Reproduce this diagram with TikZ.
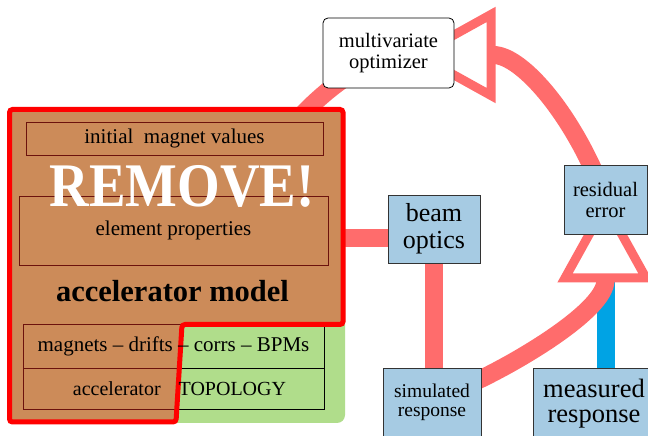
\documentclass[tikz,border=0pt]{standalone}
\usepackage{fontspec}
\setmainfont{Liberation Serif}
\usepackage{xcolor}
\usepackage{tikz}
\usetikzlibrary{arrows.meta, positioning, calc}
\definecolor{flowred}{RGB}{255, 108, 108}
\definecolor{measblue}{RGB}{0, 163, 228}
\definecolor{boxblue}{RGB}{166, 203, 227}
\definecolor{modelgreen}{RGB}{176, 221, 139}
\definecolor{removered}{RGB}{240, 40, 29}
\definecolor{borderred}{RGB}{255, 0, 0}
\pgfdeclarelayer{background}
\pgfsetlayers{background,main}
\tikzset{
    flow/.style={draw=flowred, line width=18pt},
    flowarrow/.style={flow, -{Triangle[open, length=87pt, width=94pt, line width=9pt]}},
    bluebox/.style={draw=black!80, fill=boxblue, line width=0.8pt, inner sep=0pt},
    plainbox/.style={draw=black, line width=0.8pt, inner sep=0pt},
    smalltext/.style={font=\fontsize{21}{23}\selectfont}
}

\begin{document}
\begin{tikzpicture}[x=1pt, y=1pt]
        \useasboundingbox (0,0) rectangle (648,436);

        \node[draw=black, fill=white, rounded corners=5pt, line width=0.8pt, minimum width=131pt, minimum height=70pt, align=center, font=\fontsize{20.5}{21}\selectfont] (opt) at (388.5,383) {multivariate\\optimizer};
        \node[bluebox, minimum width=92pt, minimum height=68pt, align=center, font=\fontsize{26}{27}\selectfont] (beam) at (434,207) {beam\\optics};
        \node[bluebox, minimum width=83pt, minimum height=69pt, align=center, font=\fontsize{20.5}{21}\selectfont] (res) at (605.5,236.5) {residual\\error};
        \node[bluebox, minimum width=98pt, minimum height=80pt, anchor=north] (sim) at (432,68) {};
        \node[align=center, font=\fontsize{19.5}{19}\selectfont] (simtext) at (432,34) {simulated\\response};
        \node[bluebox, minimum width=124pt, minimum height=80pt, anchor=north west] (meas) at (533,68) {};
        \node[align=center, font=\fontsize{26.5}{25}\selectfont] (meastext) at (594,32) {measured\\response};

        \node[fill=modelgreen, rounded corners=8pt, minimum width=336pt, minimum height=313pt, inner sep=0pt] (model) at (177,169.5) {};
        \node[plainbox, minimum width=297pt, minimum height=33pt] (init) at (174.5,297.5) {};
        \node[plainbox, minimum width=309pt, minimum height=69pt] (elem) at (173.5,205.5) {};
        \node[plainbox, minimum width=301pt, minimum height=44pt] (elems) at (173.5,90) {};
        \node[plainbox, minimum width=301pt, minimum height=41pt] (topo) at (173.5,47.5) {};

        \draw[borderred, line width=5pt, rounded corners=3pt, fill=removered, fill opacity=0.45] (9.5,326.5) -- (343,326.5) -- (343,111.5) -- (182,111.5) -- (176,14) -- (9.5,14) -- cycle;

        \node[smalltext] (inittext) at (init) {initial\ \ magnet values};
        \node[smalltext] (elemtext) at (elem) {element properties};
        \node[anchor=base, font=\fontsize{30.5}{32}\selectfont\bfseries] (modeltitle) at (172.5,134) {accelerator model};
        \node[smalltext] (elemstext) at (elems) {magnets -- drifts -- corrs -- BPMs};
        \node[font=\fontsize{20}{22}\selectfont] (topotext) at ([xshift=6pt]topo.center) {accelerator\hspace{18pt}TOPOLOGY};
        \node[anchor=base, text=white, font=\fontsize{62}{62}\selectfont\bfseries] (remove) at (182,229) {\scalebox{0.885}[1]{REMOVE!}};

        \begin{pgfonlayer}{background}
            \fill[white] (0,0) rectangle (648,436);
            \coordinate (join) at ([yshift=-83pt]res.center);
            \draw[measblue, line width=18pt] (meas.north -| join) -- (join);
            \draw[flow] ([yshift=-9pt]beam.west) -- ([yshift=-9pt]beam.west -| model.east);
            \draw[flow] (beam.south) -- (beam.south |- sim.north);
            \draw[flowarrow] ([xshift=-5pt,yshift=-13pt]sim.north east) to[out=25, in=-90, out looseness=0.5, in looseness=1.3] ([yshift=4pt]res.center);
            \draw[flowarrow] (res.center) to[out=110, in=0, out looseness=0.9, in looseness=1.2] ([xshift=20pt,yshift=-2pt]opt.center);
            \draw[flow] (opt.center) to[out=205, in=45] (model.center);
        \end{pgfonlayer}
    \end{tikzpicture}
\end{document}
